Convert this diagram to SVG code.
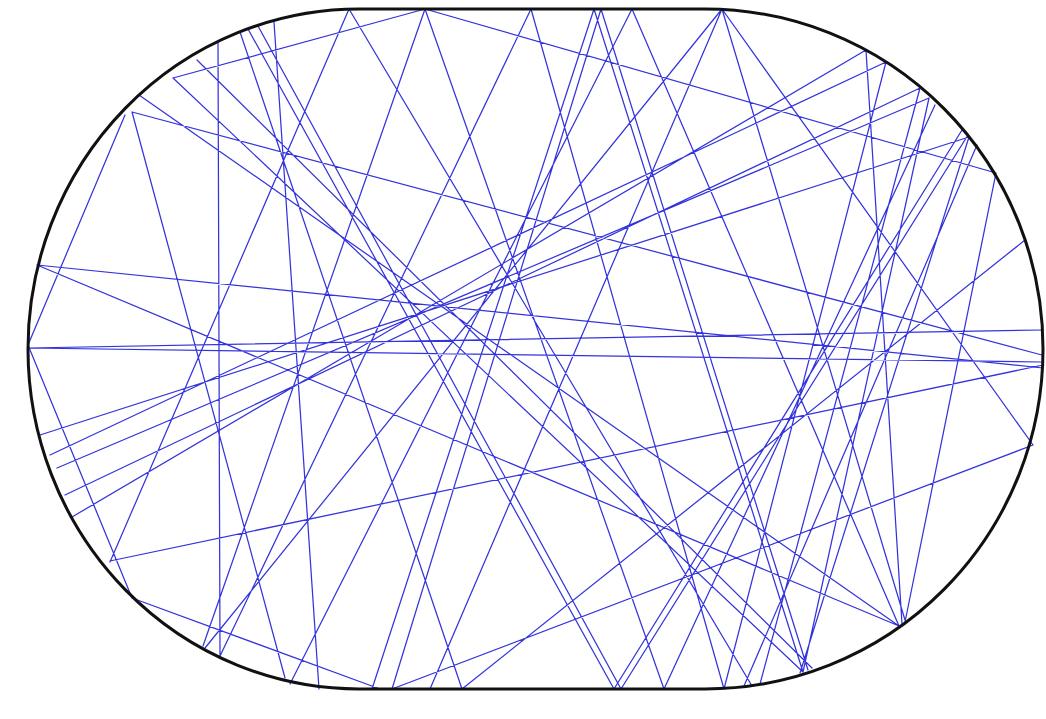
<svg xmlns="http://www.w3.org/2000/svg" width="1046" height="719" viewBox="0 0 1046 719">
<style>
.wall{fill:none;stroke:#111;stroke-width:3}
.ray{fill:none;stroke:#3434dc;stroke-width:1.25;stroke-linecap:round}
</style>
<rect width="1046" height="719" fill="#ffffff"/>
<g id="trajectory" class="ray">
<path d="M349,9L110,562 M349,9L752,686 M425,9L203,646 M425,9L664,689 M425,9L996,173 M425,9L173,78
M594,9L372,689 M601,9L392,689 M594,9L803,672 M601,9L808,670 M632,9L290,684 M632,9L899,626
M722,9L205,648 M722,9L430,689 M722,9L905,620 M531,9L724,689 M274,22L319,689 M218,43L220,656
M173,78L803,672 M197,60L812,668 M139,95L899,626 M37,265L899,626 M37,265L1043,368
M28,348L1043,330 M28,348L1041,362 M132,112L1042,355 M125,115L28,345 M132,112L285,678
M28,345L132,598 M132,598L380,689 M110,561L1043,365 M220,656L531,9
M40,435L969,137 M57,468L929,98 M72,517L866,50 M65,495L920,88 M50,455L886,62
M969,137L800,673 M929,98L803,672 M920,88L760,684 M886,62L724,689 M866,50L902,624 M996,173L905,622
M722,9L1033,445 M1033,445L392,689 M462,689L1025,240 M462,689L240,32 M614,689L248,29 M621,689L258,26
M614,689L962,130 M621,689L968,135 M664,689L935,105 M744,686L977,145"/>
</g>
<g id="stadium">
<path class="wall" d="M359,9 L705,9 A338,340 0 0 1 705,689 L359,689 A331,340 0 0 1 359,9 Z"/>
</g>
</svg>
